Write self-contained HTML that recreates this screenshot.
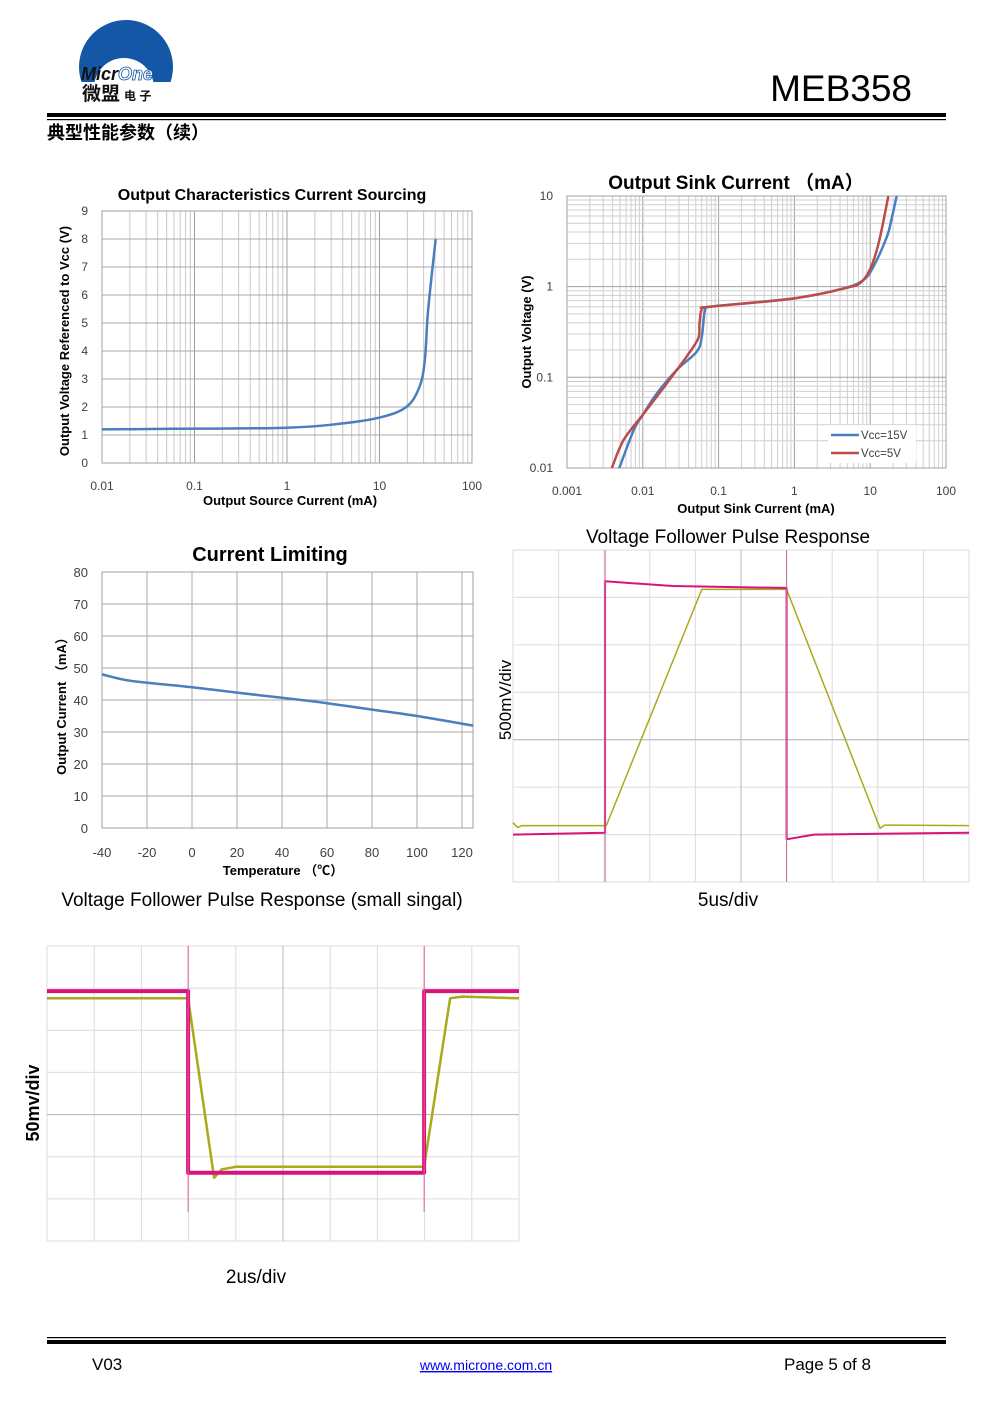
<!DOCTYPE html>
<html><head><meta charset="utf-8"><style>
html,body{margin:0;padding:0;background:#fff;}
svg{display:block;font-family:"Liberation Sans","Noto Sans CJK SC",sans-serif;}
</style></head><body>
<svg id="page" xmlns="http://www.w3.org/2000/svg" width="991" height="1403" viewBox="0 0 991 1403">
<defs><clipPath id="logoclip"><rect x="70" y="10" width="110" height="72"/></clipPath></defs>
<g>
  <g>
    <g clip-path="url(#logoclip)">
      <circle cx="126" cy="67" r="47" fill="#1457a6"/>
      <circle cx="124" cy="88" r="30" fill="#fff"/>
    </g>
    <text x="81" y="80" font-size="18" font-weight="bold" font-style="italic" fill="#111">Micr<tspan fill="#fff" stroke="#1457a6" stroke-width="0.8">One</tspan></text>
    <text x="82" y="100" font-size="19" font-weight="bold" fill="#111">微盟<tspan font-size="12" dx="4">电 子</tspan></text>
  </g>
  <text x="912" y="101" font-size="37" text-anchor="end" fill="#000">MEB358</text>
  <rect x="47" y="113" width="899" height="4" fill="#000"/>
  <rect x="47" y="119" width="899" height="1.2" fill="#000"/>
  <text x="47" y="139" font-size="18" font-weight="bold" fill="#000">典型性能参数（续）</text>
</g>

<g id="c1"></g>
<g id="c2"></g>
<g id="c3"></g>
<g id="s1"></g>
<g id="s2"></g>

<g>
  <text x="728" y="543" font-size="19" text-anchor="middle">Voltage Follower Pulse Response</text>
  <text x="262" y="906" font-size="19" text-anchor="middle">Voltage Follower Pulse Response (small singal)</text>
  <text x="728" y="906" font-size="19" text-anchor="middle">5us/div</text>
  <text x="256" y="1283" font-size="19" text-anchor="middle">2us/div</text>
  <text transform="translate(511,700) rotate(-90)" font-size="17" text-anchor="middle">500mV/div</text>
  <text transform="translate(39,1103) rotate(-90)" font-size="18" font-weight="bold" text-anchor="middle">50mv/div</text>
</g>

<g>
  <rect x="47" y="1337" width="899" height="1.2" fill="#000"/>
  <rect x="47" y="1340" width="899" height="4" fill="#000"/>
  <text x="92" y="1370" font-size="17">V03</text>
  <text x="486" y="1370" font-size="14" text-anchor="middle" fill="#0000ee" text-decoration="underline">www.microne.com.cn</text>
  <text x="784" y="1370" font-size="17">Page 5 of 8</text>
</g>
</svg>
<script>
// ---- chart 1: Output Characteristics Current Sourcing ----
const c1Current = [0.01, 0.059, 1, 3.7, 10, 19.5, 27, 30.9, 33.5, 40.5];
const c1Voltage = [1.2, 1.22, 1.26, 1.4, 1.62, 2.0, 2.71, 3.67, 5.45, 8.0];
const c1YTicks = ["0","1","2","3","4","5","6","7","8","9"];
const c1XTicks = ["0.01","0.1","1","10","100"];
// ---- chart 2: Output Sink Current ----
const c2BlueCurrent = [0.0049,0.0076,0.01,0.0154,0.0282,0.0515,0.060,0.066,0.077,0.97,4.4,8.1,11,16.5,19,22.4];
const c2BlueVoltage = [0.01,0.0263,0.0386,0.0668,0.121,0.192,0.28,0.55,0.6,0.74,0.95,1.18,1.65,3.5,5.4,10];
const c2RedCurrent = [0.0039,0.0056,0.01,0.0208,0.038,0.054,0.056,0.060,0.077,0.97,4.4,8.1,12.2,17.4];
const c2RedVoltage = [0.01,0.0205,0.0386,0.086,0.17,0.27,0.39,0.56,0.6,0.74,0.95,1.18,2.5,10];
const c2YTicks = ["0.01","0.1","1","10"];
const c2XTicks = ["0.001","0.01","0.1","1","10","100"];
const c2Series = ["Vcc=15V","Vcc=5V"];
// ---- chart 3: Current Limiting ----
const c3Temp = [-40,-30,-20,0,20,40,60,80,100,125];
const c3Current = [48,46.3,45.4,44,42.3,40.7,39,37,35,32];
const c3XTicks = ["-40","-20","0","20","40","60","80","100","120"];
const c3YTicks = ["0","10","20","30","40","50","60","70","80"];
// ---- scope 1 (divisions from centre) ----
const s1InT = [0,2.0,2.02,2.02,3.5,5.9,6.0,6.0,6.6,10];
const s1InV = [-2.0,-1.96,-1.96,3.34,3.24,3.2,3.2,-2.1,-2.0,-1.96];
const s1OutT = [0,0.1,0.2,2.02,2.05,4.14,6.0,8.05,8.15,10];
const s1OutV = [-1.75,-1.85,-1.81,-1.81,-1.8,3.17,3.17,-1.87,-1.8,-1.81];
// ---- scope 2 (divisions from centre) ----
const s2InT = [0,2.99,2.99,7.99,7.99,10];
const s2InV = [2.93,2.93,-1.38,-1.38,2.93,2.93];
const s2OutT = [0,2.99,3.54,3.7,4.0,7.99,8.54,8.8,10];
const s2OutV = [2.76,2.76,-1.5,-1.3,-1.24,-1.24,2.76,2.8,2.76];

const NS="http://www.w3.org/2000/svg";
function mk(tag, attrs, parent){const e=document.createElementNS(NS,tag);for(const k in attrs)e.setAttribute(k,attrs[k]);parent.appendChild(e);return e;}
function txt(s, attrs, parent){const e=mk('text',attrs,parent);e.textContent=s;return e;}
function pts(xs,ys,fx,fy){return xs.map((v,i)=>fx(v).toFixed(1)+','+fy(ys[i]).toFixed(1)).join(' ');}
function smooth(xs,ys,fx,fy){
  const p=xs.map((v,i)=>[fx(v),fy(ys[i])]);
  let d='M'+p[0][0].toFixed(1)+','+p[0][1].toFixed(1);
  for(let i=0;i<p.length-1;i++){
    const p0=p[Math.max(0,i-1)],p1=p[i],p2=p[i+1],p3=p[Math.min(p.length-1,i+2)];
    const c1x=p1[0]+(p2[0]-p0[0])/6,c1y=p1[1]+(p2[1]-p0[1])/6;
    const c2x=p2[0]-(p3[0]-p1[0])/6,c2y=p2[1]-(p3[1]-p1[1])/6;
    d+=' C'+c1x.toFixed(1)+','+c1y.toFixed(1)+' '+c2x.toFixed(1)+','+c2y.toFixed(1)+' '+p2[0].toFixed(1)+','+p2[1].toFixed(1);
  }
  return d;
}

// ===== chart 1 =====
(function(){
  const g=document.getElementById('c1');
  const L=102,R=472,T=211,B=463;
  const xs=v=>L+(Math.log10(v)+2)*92.5;
  const ys=v=>B-v*28;
  for(let d=-2;d<2;d++){for(let m=1;m<10;m++){const x=xs(m*Math.pow(10,d));
    const l=mk('line',{x1:x,x2:x,y1:T,y2:B,stroke:m==1?'#a0a0a0':'#c8c8c8','stroke-width':1},g);
    
    }}
  c1YTicks.forEach((t,i)=>{const y=ys(+t);
    const l=mk('line',{x1:L,x2:R,y1:y,y2:y,stroke:'#a8a8a8','stroke-width':1},g);
    
    
    const tl=txt(t,{x:88,y:y+4,'font-size':12,fill:'#404040','text-anchor':'end'},g);
    
    });
  const fr=mk('rect',{x:L,y:T,width:R-L,height:B-T,fill:'none',stroke:'#a0a0a0'},g);
  
  
  c1XTicks.forEach(t=>{const tl=txt(t,{x:xs(+t),y:490,'font-size':12,fill:'#404040','text-anchor':'middle'},g);
    
    });
  const ln=mk('path',{d:smooth(c1Current,c1Voltage,xs,ys),fill:'none',stroke:'#4a7ebf','stroke-width':2.5,'stroke-linejoin':'round'},g);
  
  
  const ti=txt('Output Characteristics Current Sourcing',{x:272,y:200,'font-size':16,'font-weight':'bold','text-anchor':'middle'},g);
  
  
  const xt=txt('Output Source Current (mA)',{x:290,y:505,'font-size':13,'font-weight':'bold','text-anchor':'middle'},g);
  
  
  const yt=txt('Output Voltage Referenced to Vcc (V)',{transform:'translate(69,341) rotate(-90)','font-size':13,'font-weight':'bold','text-anchor':'middle'},g);
  
  
})();

// ===== chart 2 =====
(function(){
  const g=document.getElementById('c2');
  const L=567,R=946,T=196,B=468;
  const xs=v=>L+(Math.log10(v)+3)*75.8;
  const ys=v=>B-(Math.log10(v)+2)*90.7;
  for(let d=-3;d<2;d++){for(let m=1;m<10;m++){const x=xs(m*Math.pow(10,d));
    const l=mk('line',{x1:x,x2:x,y1:T,y2:B,stroke:m==1?'#a0a0a0':'#cfcfcf','stroke-width':1},g);
    
    }}
  for(let d=-2;d<1;d++){for(let m=1;m<10;m++){const y=ys(m*Math.pow(10,d));
    const l=mk('line',{x1:L,x2:R,y1:y,y2:y,stroke:m==1?'#a0a0a0':'#cfcfcf','stroke-width':1},g);
    
    }}
  const fr=mk('rect',{x:L,y:T,width:R-L,height:B-T,fill:'none',stroke:'#a0a0a0'},g);
  
  
  c2YTicks.forEach(t=>{const tl=txt(t,{x:553,y:ys(+t)+4,'font-size':12,fill:'#404040','text-anchor':'end'},g);
    
    });
  c2XTicks.forEach(t=>{const tl=txt(t,{x:xs(+t),y:495,'font-size':12,fill:'#404040','text-anchor':'middle'},g);
    
    });
  const cp=mk('clipPath',{id:'c2clip'},g);mk('rect',{x:L,y:T,width:R-L,height:B-T},cp);
  const b=mk('path',{d:smooth(c2BlueCurrent,c2BlueVoltage,xs,ys),fill:'none',stroke:'#4a7ebf','stroke-width':2.5,'stroke-linejoin':'round','clip-path':'url(#c2clip)'},g);
  
  
  const r=mk('path',{d:smooth(c2RedCurrent,c2RedVoltage,xs,ys),fill:'none',stroke:'#be4b48','stroke-width':2.5,'stroke-linejoin':'round','clip-path':'url(#c2clip)'},g);
  
  
  const lb=mk('rect',{x:828,y:425,width:88,height:38,fill:'#fff'},g);
  
  
  const cols=['#4a7ebf','#be4b48'];
  c2Series.forEach((s,i)=>{const y=435+i*18;
    const l=mk('line',{x1:831,x2:859,y1:y,y2:y,stroke:cols[i],'stroke-width':2.5},g);
    
    
    const t=txt(s,{x:861,y:y+4,'font-size':11.5,fill:'#404040'},g);
    
    });
  const ti=txt('Output Sink Current （mA）',{x:736,y:189,'font-size':19,'font-weight':'bold','text-anchor':'middle'},g);
  
  
  const xt=txt('Output Sink Current (mA)',{x:756,y:513,'font-size':13,'font-weight':'bold','text-anchor':'middle'},g);
  
  
  const yt=txt('Output  Voltage (V)',{transform:'translate(531,332) rotate(-90)','font-size':13,'font-weight':'bold','text-anchor':'middle'},g);
  
  
})();

// ===== chart 3 =====
(function(){
  const g=document.getElementById('c3');
  const L=102,R=473,T=572,B=828;
  const xs=v=>L+(v+40)*2.25;
  const ys=v=>B-v*3.2;
  c3XTicks.forEach(t=>{const x=xs(+t);
    const l=mk('line',{x1:x,x2:x,y1:T,y2:B,stroke:'#a8a8a8'},g);
    
    
    const tl=txt(t,{x:x,y:857,'font-size':13,fill:'#404040','text-anchor':'middle'},g);
    
    });
  c3YTicks.forEach(t=>{const y=ys(+t);
    const l=mk('line',{x1:L,x2:R,y1:y,y2:y,stroke:'#a8a8a8'},g);
    
    
    const tl=txt(t,{x:88,y:y+5,'font-size':13,fill:'#404040','text-anchor':'end'},g);
    
    });
  const fr=mk('rect',{x:L,y:T,width:R-L,height:B-T,fill:'none',stroke:'#a0a0a0'},g);
  
  
  const ln=mk('path',{d:smooth(c3Temp,c3Current,xs,ys),fill:'none',stroke:'#4a7ebf','stroke-width':2.5},g);
  
  
  const ti=txt('Current Limiting',{x:270,y:561,'font-size':20,'font-weight':'bold','text-anchor':'middle'},g);
  
  
  const xt=txt('Temperature （℃）',{x:283,y:875,'font-size':13,'font-weight':'bold','text-anchor':'middle'},g);
  
  
  const yt=txt('Output Current （mA）',{transform:'translate(66,703) rotate(-90)','font-size':13,'font-weight':'bold','text-anchor':'middle'},g);
  
  
})();

// ===== scopes =====
function scope(id,L,T,W,H,inT,inV,outT,outV,inW,outW){
  const g=document.getElementById(id);
  const dx=W/10,dy=H/7,cy=T+4*dy,cx=L+W/2;
  const xs=t=>L+t*dx, ys=v=>cy-v*dy;
  for(let i=0;i<=10;i++){const x=L+i*dx;
    const l=mk('line',{x1:x,x2:x,y1:T,y2:T+H,stroke:'#dcdcdc'},g);
    
    }
  for(let j=0;j<=7;j++){const y=T+j*dy;
    const l=mk('line',{x1:L,x2:L+W,y1:y,y2:y,stroke:'#dcdcdc'},g);
    
    }
  const a1=mk('line',{x1:L,x2:L+W,y1:cy,y2:cy,stroke:'#b8b8b8'},g);
  
  
  const a2=mk('line',{x1:cx,x2:cx,y1:T,y2:T+H,stroke:'#b8b8b8'},g);
  
  
  const o=mk('polyline',{points:pts(outT,outV,xs,ys),fill:'none',stroke:'#a8aa1a','stroke-width':outW,'stroke-linejoin':'round'},g);
  
  
  const p=mk('polyline',{points:pts(inT,inV,xs,ys),fill:'none',stroke:'#d6147a','stroke-width':inW,'stroke-linejoin':'round'},g);
  
  
  return {g,xs,ys,T,H};
}
const sc1=scope('s1',513,550,456,332,s1InT,s1InV,s1OutT,s1OutV,2,1.5);
[2.02,6.0].forEach(t=>{const l=mk('line',{x1:sc1.xs(t),x2:sc1.xs(t),y1:550,y2:882,stroke:'#c86a9a','stroke-width':1},sc1.g);
  
  });
const sc2=scope('s2',47,946,472,295,s2InT,s2InV,s2OutT,s2OutV,4,2.5);
[2.99,7.99].forEach(t=>{const l=mk('line',{x1:sc2.xs(t),x2:sc2.xs(t),y1:946,y2:1212,stroke:'#e0609e','stroke-width':1},sc2.g);
  
  });
</script>
</body></html>
